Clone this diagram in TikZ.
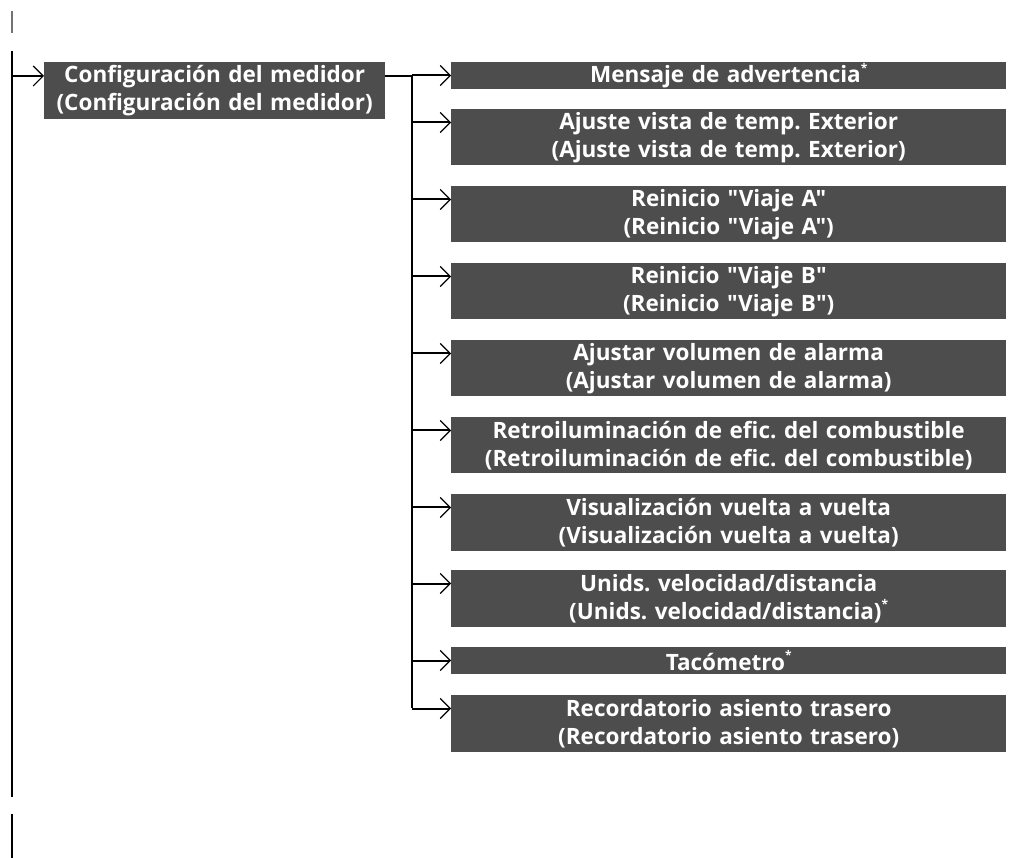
\documentclass[tikz,border=0pt]{standalone}
\usepackage{fontspec}
\setmainfont{Open Sans}[Ligatures=TeXOff]
\usetikzlibrary{arrows.meta,positioning,calc}
\definecolor{boxgray}{RGB}{77,77,77}
\newcommand{\stern}{\raisebox{0.45em}{\fontsize{12}{12}\selectfont *}}
\tikzset{
  box/.style={fill=boxgray,text=white,font=\fontsize{22.5}{28}\selectfont\bfseries\frenchspacing,
              align=center,inner xsep=0pt,inner ysep=0pt,anchor=west},
  mainbox/.style={box,text width=341pt,minimum height=57pt},
  sub/.style={box,text width=555pt},
  ar/.style={-{Straight Barb[length=10pt,width=20pt,line width=1.1pt]},line width=2pt},
  ln/.style={line width=2pt},
}
\begin{document}
\begin{tikzpicture}[x=1pt,y=-1pt]
  \useasboundingbox (0,0) rectangle (1010,858);
  % left rail
  \coordinate (r0) at (11.5,11);   \coordinate (r1) at (11.5,33);
  \coordinate (r2) at (11.5,51);   \coordinate (r3) at (11.5,797);
  \coordinate (r4) at (11.5,814);  \coordinate (r5) at (11.5,858);
  \draw[ln,black!55] (r0) -- (r1);
  \draw[ln] (r2) -- (r3);
  \draw[ln] (r4) -- (r5);
  % main entry
  \node[mainbox] (cfg) at (44,90.5) {Configuración del medidor\\(Configuración del medidor)};
  \coordinate (rin) at (11.5,76);
  \draw[ar] (rin) -- (cfg.west |- rin);
  \coordinate (tr0) at (412,76);
  \coordinate (tr1) at (412,708);
  \draw[ln] (cfg.east |- tr0) -- (tr0) -- (tr1);
  % sub entries: number / top / height / text
  \foreach \n/\t/\h/\txt in {
      1/62/27/{Mensaje de advertencia\stern},
      2/109/56.5/{Ajuste vista de temp. Exterior\\(Ajuste vista de temp. Exterior)},
      3/186/56.5/{Reinicio "Viaje A"\\(Reinicio "Viaje A")},
      4/263/56.5/{Reinicio "Viaje B"\\(Reinicio "Viaje B")},
      5/340/56.5/{Ajustar volumen de alarma\\(Ajustar volumen de alarma)},
      6/417/56.5/{Retroiluminación de efic. del combustible\\(Retroiluminación de efic. del combustible)},
      7/494/56.5/{Visualización vuelta a vuelta\\(Visualización vuelta a vuelta)},
      8/570/56.5/{Unids. velocidad/distancia\\(Unids. velocidad/distancia)\stern},
      9/647/27/{Tacómetro\stern},
      10/695/56.5/{Recordatorio asiento trasero\\(Recordatorio asiento trasero)}} {
    \node[sub,minimum height=\h pt] (s\n) at (451,\t+\h/2) {\txt};
    \coordinate (b\n) at (412,\t+13.5);
    \draw[ar] (b\n) -- (s\n.west |- b\n);
  }
\end{tikzpicture}
\end{document}
